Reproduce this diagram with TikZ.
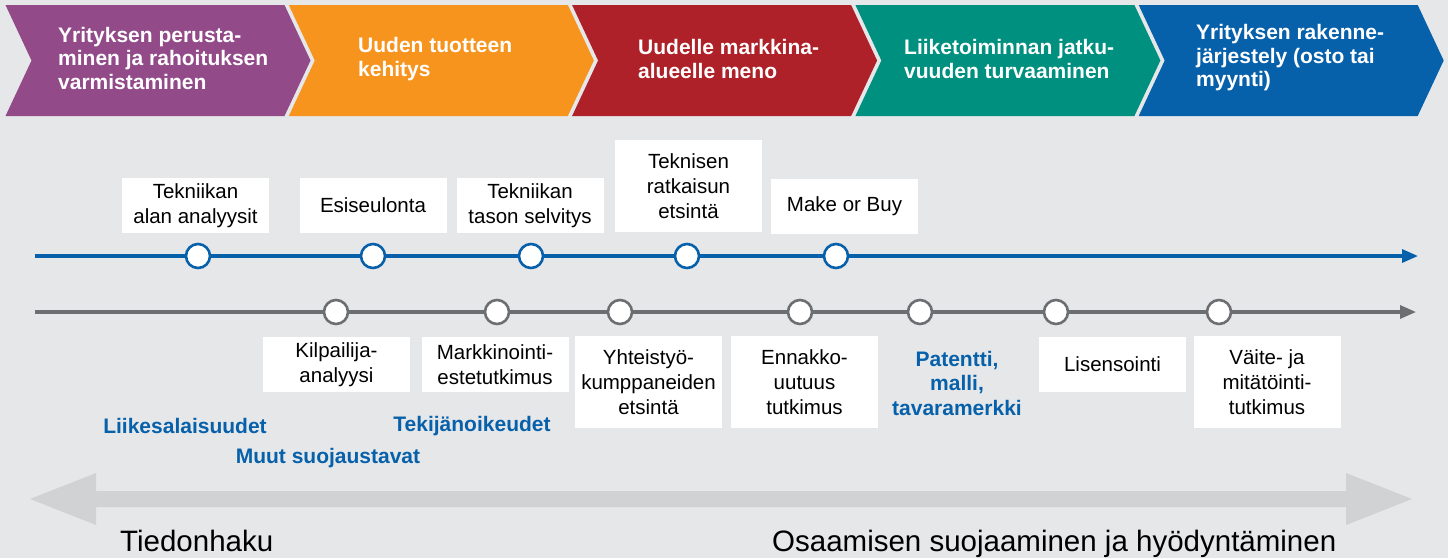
\documentclass[tikz,border=0pt]{standalone}
\usepackage{fontspec}
\setmainfont{Liberation Sans}
\usepackage{xcolor}
\usepackage{tikz}
\usetikzlibrary{arrows.meta}

\definecolor{tausta}{HTML}{E6E7E9}
\definecolor{violetti}{HTML}{924A89}
\definecolor{oranssi}{HTML}{F7941E}
\definecolor{punainen}{HTML}{AF2129}
\definecolor{turkoosi}{HTML}{00907F}
\definecolor{sininen}{HTML}{0760AA}
\definecolor{harmaa}{HTML}{6D6E71}
\definecolor{vaalea}{HTML}{D1D2D4}

\begin{document}
\begin{tikzpicture}[x=1pt, y=-1pt,
  vaihe/.style={anchor=west, inner sep=0pt, align=left, text=white,
                font=\fontsize{21}{23.5}\selectfont\bfseries},
  laatikko/.style={fill=white, minimum width=147pt, minimum height=55pt,
                   align=center, inner sep=2pt,
                   font=\fontsize{20.5}{25}\selectfont},
  korkea/.style={laatikko, minimum height=92pt},
  suoja/.style={text=sininen, align=center, inner sep=0pt,
                font=\fontsize{21}{24.5}\selectfont\bfseries},
  pallo/.style={circle, fill=white, line width=2.6pt, minimum size=24pt,
                inner sep=0pt},
  aikajana/.style={line width=3.2pt, -{Triangle[length=16pt,width=13pt]}},
]
  % Tausta
  \fill[tausta] (0,0) rectangle (1448,558);
  \useasboundingbox (0,0) rectangle (1448,558);

  % Vaiheet (nuolet ylhaalla)
  \fill[violetti] (5.5,5) -- (284.5,5) -- (310.5,60.5) -- (284.5,116) -- (5.5,116) -- (31.5,60.5) -- cycle;
  \fill[oranssi]  (288.8,5) -- (567.8,5) -- (593.8,60.5) -- (567.8,116) -- (288.8,116) -- (314.8,60.5) -- cycle;
  \fill[punainen] (572.1,5) -- (851.1,5) -- (877.1,60.5) -- (851.1,116) -- (572.1,116) -- (598.1,60.5) -- cycle;
  \fill[turkoosi] (855.4,5) -- (1134.4,5) -- (1160.4,60.5) -- (1134.4,116) -- (855.4,116) -- (881.4,60.5) -- cycle;
  \fill[sininen]  (1138.7,5) -- (1417.7,5) -- (1443.7,60.5) -- (1417.7,116) -- (1138.7,116) -- (1164.7,60.5) -- cycle;

  \node[vaihe] (perustaminen) at (58,58)   {Yrityksen perusta-\\minen ja rahoituksen\\varmistaminen};
  \node[vaihe] (kehitys)      at (358,59)  {Uuden tuotteen\\kehitys};
  \node[vaihe] (markkina)     at (638,59)  {Uudelle markkina-\\alueelle meno};
  \node[vaihe] (jatkuvuus)    at (904,59)  {Liiketoiminnan jatku-\\vuuden turvaaminen};
  \node[vaihe] (jarjestely)   at (1196,58) {Yrityksen rakenne-\\järjestely (osto tai\\myynti)};

  % Aikajanat
  \coordinate (salku)  at (35,256);
  \coordinate (sloppu) at (1418,256);
  \coordinate (halku)  at (35,312);
  \coordinate (hloppu) at (1416,312);
  \draw[aikajana, sininen] (salku) -- (sloppu);
  \draw[aikajana, harmaa]  (halku) -- (hloppu);

  % Pallot
  \node[pallo, draw=sininen] (b1) at (198,256) {};
  \node[pallo, draw=sininen] (b2) at (373,256) {};
  \node[pallo, draw=sininen] (b3) at (531,256) {};
  \node[pallo, draw=sininen] (b4) at (687,256) {};
  \node[pallo, draw=sininen] (b5) at (836,256) {};

  \node[pallo, draw=harmaa] (h1) at (336,312)  {};
  \node[pallo, draw=harmaa] (h2) at (497,312)  {};
  \node[pallo, draw=harmaa] (h3) at (620,312)  {};
  \node[pallo, draw=harmaa] (h4) at (800,312)  {};
  \node[pallo, draw=harmaa] (h5) at (920,312)  {};
  \node[pallo, draw=harmaa] (h6) at (1056,312) {};
  \node[pallo, draw=harmaa] (h7) at (1219,312) {};

  % Laatikot sinisen janan ylapuolella
  \node[laatikko] (analyysit) at (195.5,205.5) {Tekniikan\\alan analyysit};
  \node[laatikko] (esiseulonta) at (373,205.5) {Esiseulonta};
  \node[laatikko] (taso)      at (530,205.5)   {Tekniikan\\tason selvitys};
  \node[korkea]   (ratkaisu)  at (688.5,186)   {Teknisen\\ratkaisun\\etsintä};
  \node[laatikko] (makebuy)   at (844.5,206.5) {Make or Buy};

  % Laatikot harmaan janan alapuolella
  \node[laatikko] (kilpailija) at (336.5,364.5) {Kilpailija-\\analyysi};
  \node[laatikko] (este)       at (495,364.5)   {Markkinointi-\\estetutkimus};
  \node[korkea]   (kumppani)   at (648.5,382)   {Yhteistyö-\\kumppaneiden\\etsintä};
  \node[korkea]   (ennakko)    at (804.5,382)   {Ennakko-\\uutuus\\tutkimus};
  \node[suoja]    (patentti)   at (957,383)     {Patentti,\\malli,\\tavaramerkki};
  \node[laatikko] (lisensointi) at (1112.5,364.5) {Lisensointi};
  \node[korkea]   (vaite)      at (1267,382)    {Väite- ja\\mitätöinti-\\tutkimus};

  % Suojausmuodot
  \node[suoja] (salaisuudet) at (185,426) {Liikesalaisuudet};
  \node[suoja] (oikeudet)    at (472,426) {Tekijänoikeudet};
  \node[suoja] (muut)        at (328,458) {Muut suojaustavat};

  % Iso kaksisuuntainen nuoli
  \fill[vaalea] (30,499) -- (96,473) -- (96,491) -- (1346,491) -- (1346,473)
    -- (1412,499) -- (1346,525) -- (1346,507) -- (96,507) -- (96,525) -- cycle;

  \node[anchor=base west, inner sep=0pt, font=\fontsize{29.5}{31}\selectfont]
    (haku) at (120,551) {Tiedonhaku};
  \node[anchor=base west, inner sep=0pt, font=\fontsize{29.5}{31}\selectfont]
    (hyodyntaminen) at (772,551) {Osaamisen suojaaminen ja hyödyntäminen};
\end{tikzpicture}
\end{document}
